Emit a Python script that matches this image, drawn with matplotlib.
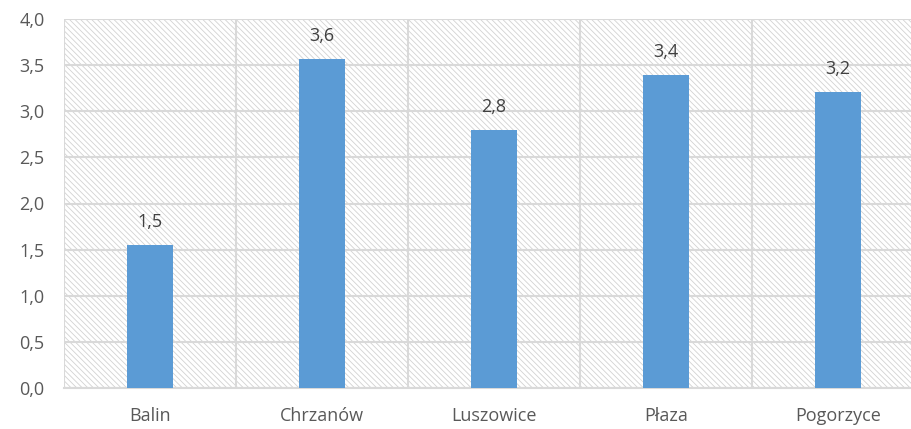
import numpy as np
import matplotlib.pyplot as plt
from matplotlib.patches import Rectangle

plt.rcParams['font.family'] = ['Open Sans', 'DejaVu Sans']
plt.rcParams['hatch.color'] = '#d2d2d2'
plt.rcParams['hatch.linewidth'] = 0.6

places = ['Balin', 'Chrzanów', 'Luszowice', 'Płaza', 'Pogorzyce']
values = [1.55, 3.57, 2.80, 3.39, 3.21]
labels = ['1,5', '3,6', '2,8', '3,4', '3,2']
yticks = [0.0, 0.5, 1.0, 1.5, 2.0, 2.5, 3.0, 3.5, 4.0]

fig = plt.figure(figsize=(9.12, 4.29), dpi=100)
ax = fig.add_axes([64 / 912, 41 / 429, 860 / 912, 369 / 429])

# hatched plot area
bg = Rectangle((0, 0), 1, 1, transform=ax.transAxes, facecolor='white',
               edgecolor='#d2d2d2', linewidth=0, hatch='\\' * 6, zorder=0)
ax.add_patch(bg)

x = np.arange(len(places))
bars = ax.bar(x, values, width=0.273, color='#5b9bd5', zorder=3)

for xi, v, lab in zip(x, values, labels):
    ax.annotate(lab, (xi, v), xytext=(0, 10), textcoords='offset points',
                ha='center', va='bottom', fontsize=13, color='#404040')

ax.set_xlim(-0.5, 4.5)
ax.set_ylim(0, 4)
ax.set_yticks(yticks)
ax.set_yticklabels([f'{t:.1f}'.replace('.', ',') for t in yticks])
ax.set_xticks(x)
ax.set_xticklabels(places)
ax.set_xticks(np.arange(-0.5, 5, 1), minor=True)

ax.grid(axis='y', which='major', color='#d9d9d9', linewidth=1.5, zorder=1)
ax.grid(axis='x', which='minor', color='#d9d9d9', linewidth=1.5, zorder=1)
ax.set_axisbelow(True)

for s in ['top', 'right', 'left']:
    ax.spines[s].set_visible(False)
ax.spines['bottom'].set_color('#d9d9d9')
ax.spines['bottom'].set_linewidth(1.5)

ax.tick_params(axis='both', which='both', length=0, labelsize=13,
               labelcolor='#595959')
ax.tick_params(axis='y', pad=14)
ax.tick_params(axis='x', pad=14)

plt.savefig('out.png', dpi=100)
